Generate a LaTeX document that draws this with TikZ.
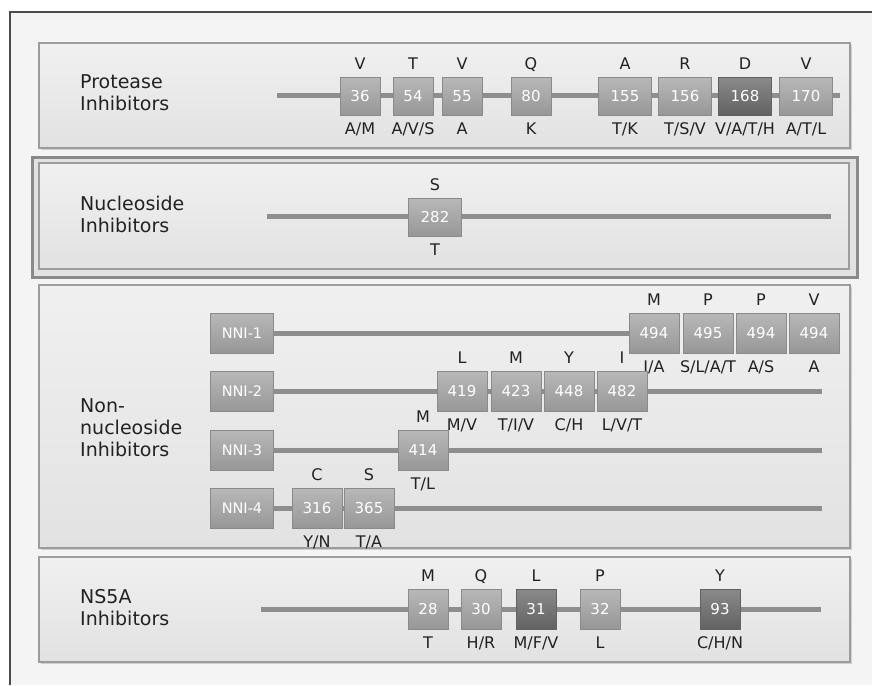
\documentclass[tikz,border=0pt]{standalone}
\usepackage{fontspec}
\setmainfont{DejaVu Sans}
\usepackage{tikz}
\definecolor{framegray}{HTML}{4a4a4a}
\definecolor{bggray}{HTML}{f4f4f4}
\definecolor{paneltop}{HTML}{f0f0f0}
\definecolor{panelbot}{HTML}{e2e2e2}
\definecolor{panelrim}{HTML}{9c9c9c}
\definecolor{shadegray}{HTML}{cfcfcf}
\definecolor{trackgray}{HTML}{8e8e8e}
\definecolor{boxtop}{HTML}{b8b8b8}
\definecolor{boxbot}{HTML}{979797}
\definecolor{boxrim}{HTML}{8a8a8a}
\definecolor{darktop}{HTML}{8a8a8a}
\definecolor{darkbot}{HTML}{626262}
\definecolor{inkgray}{HTML}{222222}

\begin{document}
\begin{tikzpicture}[x=1pt,y=-1pt,
  panel/.style={draw=panelrim,line width=1.5pt,top color=paneltop,bottom color=panelbot},
  track/.style={trackgray,line width=5pt},
  mut/.style={draw=boxrim,line width=1pt,top color=boxtop,bottom color=boxbot,text=white,
    minimum width=40pt,minimum height=38pt,inner sep=0pt,font=\fontsize{15}{15}\selectfont},
  wide/.style={mut,minimum width=53pt},
  dark/.style={top color=darktop,bottom color=darkbot,draw=darkbot},
  nni/.style={mut,minimum width=63pt,minimum height=40pt,font=\fontsize{14.5}{14.5}\selectfont},
  side/.style={anchor=west,align=left,inner sep=0pt,text=inkgray,font=\fontsize{19}{22}\selectfont},
  every label/.append style={inner sep=0pt,text=inkgray,text height=11.5pt,text depth=0pt,
    font=\fontsize{16}{16}\selectfont},
  label distance=7pt]
  \useasboundingbox (0,0) rectangle (872,685);
  % page and outer frame (cut at right and bottom)
  \fill[white] (0,0) rectangle (872,685);
  \fill[bggray] (10,12) rectangle (872,685);
  \draw[framegray,line width=1.5pt] (10,685) -- (10,12) -- (872,12);

  % panels
  \fill[shadegray] (41,45) rectangle (852,150);
  \draw[panel] (39,43) rectangle (850,148);
  \fill[shadegray] (34,159) rectangle (859,279);
  \draw[draw=boxrim,line width=3pt,fill=panelbot] (32,157) rectangle (857,277);
  \draw[panel] (39,163) rectangle (849,269);
  \fill[shadegray] (41,287) rectangle (852,550);
  \draw[panel] (39,285) rectangle (850,548);
  \fill[shadegray] (41,559) rectangle (852,664);
  \draw[panel] (39,557) rectangle (850,662);

  \node[side] (lprot) at (80,93) {Protease\\Inhibitors};
  \node[side] (lnuc) at (80,214) {Nucleoside\\Inhibitors};
  \node[side] (lnon) at (80,428) {Non-\\nucleoside\\Inhibitors};
  \node[side] (lns5a) at (80,608) {NS5A\\Inhibitors};

  % protease
  \coordinate (pa) at (277,95);
  \coordinate (pb) at (840,95);
  \draw[track] (pa) -- (pb);
  \node[mut,label=above:V,label=below:A/M] (p36) at (360,96) {36};
  \node[mut,label=above:T,label=below:A/V/S] (p54) at (413,96) {54};
  \node[mut,label=above:V,label=below:A] (p55) at (462,96) {55};
  \node[mut,label=above:Q,label=below:K] (p80) at (531,96) {80};
  \node[wide,label=above:A,label=below:T/K] (p155) at (625,96) {155};
  \node[wide,label=above:R,label=below:T/S/V] (p156) at (685,96) {156};
  \node[wide,dark,label=above:D,label=below:V/A/T/H] (p168) at (745,96) {168};
  \node[wide,label=above:V,label=below:A/T/L] (p170) at (806,96) {170};

  % nucleoside
  \coordinate (na) at (267,216);
  \coordinate (nb) at (831,216);
  \draw[track] (na) -- (nb);
  \node[wide,label=above:S,label=below:T] (n282) at (435,217) {282};

  % non-nucleoside
  \node[nni] (nni1) at (242,333) {NNI-1};
  \node[nni] (nni2) at (242,391) {NNI-2};
  \node[nni] (nni3) at (242,450) {NNI-3};
  \node[nni] (nni4) at (242,508) {NNI-4};
  \coordinate (e1) at (660,333);
  \coordinate (e2) at (822,391);
  \coordinate (e3) at (822,450);
  \coordinate (e4) at (822,508);
  \draw[track] (nni1) -- (e1);
  \draw[track] (nni2) -- (e2);
  \draw[track] (nni3) -- (e3);
  \draw[track] (nni4) -- (e4);
  \node[wide,minimum width=50pt,minimum height=40pt,label=above:M,label=below:I/A] (m494a) at (654,333) {494};
  \node[wide,minimum width=50pt,minimum height=40pt,label=above:P,label=below:S/L/A/T] (m495) at (708,333) {495};
  \node[wide,minimum width=50pt,minimum height=40pt,label=above:P,label=below:A/S] (m494b) at (761,333) {494};
  \node[wide,minimum width=50pt,minimum height=40pt,label=above:V,label=below:A] (m494c) at (814,333) {494};
  \node[wide,minimum width=50pt,minimum height=40pt,label=above:L,label=below:M/V] (m419) at (462,391) {419};
  \node[wide,minimum width=50pt,minimum height=40pt,label=above:M,label=below:T/I/V] (m423) at (516,391) {423};
  \node[wide,minimum width=50pt,minimum height=40pt,label=above:Y,label=below:C/H] (m448) at (569,391) {448};
  \node[wide,minimum width=50pt,minimum height=40pt,label=above:I,label=below:L/V/T] (m482) at (622,391) {482};
  \node[wide,minimum width=50pt,minimum height=40pt,label=above:M,label=below:T/L] (m414) at (423,450) {414};
  \node[wide,minimum width=50pt,minimum height=40pt,label=above:C,label=below:Y/N] (m316) at (317,508) {316};
  \node[wide,minimum width=50pt,minimum height=40pt,label=above:S,label=below:T/A] (m365) at (369,508) {365};

  % NS5A
  \coordinate (sa) at (261,609);
  \coordinate (sb) at (821,609);
  \draw[track] (sa) -- (sb);
  \node[mut,minimum height=40pt,label=above:M,label=below:T] (s28) at (428,609) {28};
  \node[mut,minimum height=40pt,label=above:Q,label=below:H/R] (s30) at (481,609) {30};
  \node[mut,dark,minimum height=40pt,label=above:L,label=below:M/F/V] (s31) at (536,609) {31};
  \node[mut,minimum height=40pt,label=above:P,label=below:L] (s32) at (600,609) {32};
  \node[mut,dark,minimum height=40pt,label=above:Y,label=below:C/H/N] (s93) at (720,609) {93};
\end{tikzpicture}
\end{document}
